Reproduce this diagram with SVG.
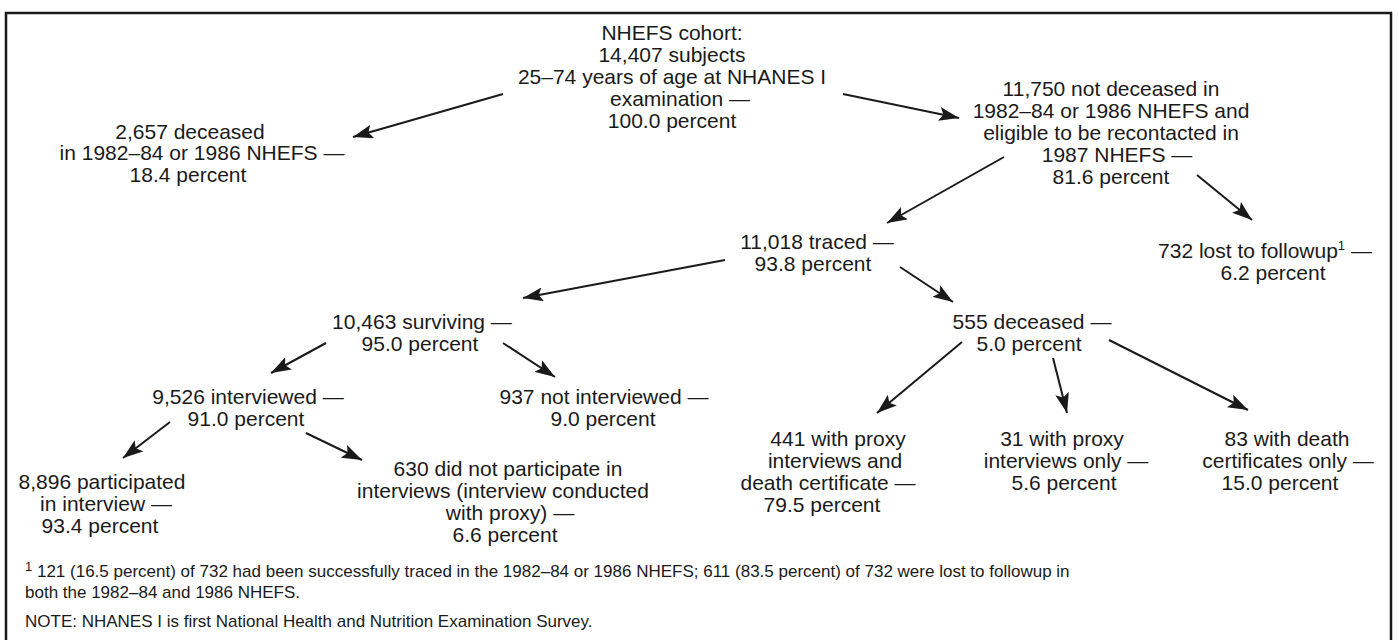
<svg xmlns="http://www.w3.org/2000/svg" width="1399" height="640" viewBox="0 0 1399 640">
<style>
text{font-family:"Liberation Sans",Arial,sans-serif;font-size:21px;fill:#1a1a1a;text-anchor:middle}
.fn{font-size:17px;text-anchor:start}
.sup{font-size:13px}
.c{stroke:#1a1a1a;stroke-width:2;fill:none;marker-end:url(#ah)}
</style>
<defs>
<marker id="ah" markerUnits="userSpaceOnUse" markerWidth="22" markerHeight="14" refX="20" refY="7" orient="auto">
<path d="M0,0 L20,7 L0,14 L4,7 z" fill="#1a1a1a"/>
</marker>
</defs>
<rect width="1399" height="640" fill="#fff"/>
<path d="M6,645 V13 H1391 V645" fill="none" stroke="#1a1a1a" stroke-width="2.5"/>
<g id="connectors">
<line class="c" x1="503" y1="94" x2="353" y2="137"/>
<line class="c" x1="843" y1="94" x2="959" y2="118"/>
<line class="c" x1="1004" y1="157" x2="887" y2="223"/>
<line class="c" x1="1197" y1="175" x2="1252" y2="220"/>
<line class="c" x1="725" y1="260" x2="523" y2="298"/>
<line class="c" x1="900" y1="267" x2="953" y2="302"/>
<line class="c" x1="326" y1="343" x2="271" y2="373"/>
<line class="c" x1="503" y1="343" x2="555" y2="377"/>
<line class="c" x1="170" y1="422" x2="123" y2="458"/>
<line class="c" x1="306" y1="433" x2="362" y2="460"/>
<line class="c" x1="962" y1="342" x2="877" y2="413"/>
<line class="c" x1="1053" y1="358" x2="1067" y2="413"/>
<line class="c" x1="1109" y1="340" x2="1248" y2="410"/>
</g>
<g id="n-cohort">
<text x="672" y="39.5">NHEFS cohort:</text>
<text x="672" y="61.5">14,407 subjects</text>
<text x="672" y="83.5">25–74 years of age at NHANES I</text>
<text x="680" y="105.5">examination —</text>
<text x="672" y="127.5">100.0 percent</text>
</g>
<g id="n-deceased-early">
<text x="190" y="138.5">2,657 deceased</text>
<text x="202" y="160">in 1982–84 or 1986 NHEFS —</text>
<text x="188" y="181.5">18.4 percent</text>
</g>
<g id="n-eligible">
<text x="1111" y="95.5">11,750 not deceased in</text>
<text x="1111" y="117.5">1982–84 or 1986 NHEFS and</text>
<text x="1111" y="139.5">eligible to be recontacted in</text>
<text x="1117" y="161.5">1987 NHEFS —</text>
<text x="1111" y="183.5">81.6 percent</text>
</g>
<g id="n-traced">
<text x="817" y="248.5">11,018 traced —</text>
<text x="813" y="270.5">93.8 percent</text>
</g>
<g id="n-lost">
<text x="1265" y="257.5">732 lost to followup<tspan class="sup" dy="-8">1</tspan><tspan dy="8"> —</tspan></text>
<text x="1273" y="279.5">6.2 percent</text>
</g>
<g id="n-surviving">
<text x="422" y="328.5">10,463 surviving —</text>
<text x="420" y="350.5">95.0 percent</text>
</g>
<g id="n-deceased">
<text x="1032" y="328.5">555 deceased —</text>
<text x="1029" y="350.5">5.0 percent</text>
</g>
<g id="n-interviewed">
<text x="248" y="403.5">9,526 interviewed —</text>
<text x="246" y="425.5">91.0 percent</text>
</g>
<g id="n-not-interviewed">
<text x="604" y="403.5">937 not interviewed —</text>
<text x="603" y="425.5">9.0 percent</text>
</g>
<g id="n-participated">
<text x="102" y="488.5">8,896 participated</text>
<text x="106" y="510.5">in interview —</text>
<text x="100" y="532.5">93.4 percent</text>
</g>
<g id="n-proxy">
<text x="508" y="475.5">630 did not participate in</text>
<text x="503" y="497.5">interviews (interview conducted</text>
<text x="510" y="519.5">with proxy) —</text>
<text x="505" y="541.5">6.6 percent</text>
</g>
<g id="n-proxy-death">
<text x="838" y="445.5">441 with proxy</text>
<text x="835" y="467.5">interviews and</text>
<text x="828" y="489.5">death certificate —</text>
<text x="822" y="511.5">79.5 percent</text>
</g>
<g id="n-proxy-only">
<text x="1062" y="445.5">31 with proxy</text>
<text x="1066" y="467.5">interviews only —</text>
<text x="1064" y="489.5">5.6 percent</text>
</g>
<g id="n-death-only">
<text x="1287" y="445.5">83 with death</text>
<text x="1288" y="467.5">certificates only —</text>
<text x="1280" y="489.5">15.0 percent</text>
</g>
<g id="footnotes">
<text class="fn" x="25" y="577"><tspan class="sup" font-size="12" dy="-6">1</tspan><tspan dy="6"> 121 (16.5 percent) of 732 had been successfully traced in the 1982–84 or 1986 NHEFS; 611 (83.5 percent) of 732 were lost to followup in</tspan></text>
<text class="fn" x="25" y="598">both the 1982–84 and 1986 NHEFS.</text>
<text class="fn" x="25" y="627">NOTE: NHANES I is first National Health and Nutrition Examination Survey.</text>
</g>
</svg>
